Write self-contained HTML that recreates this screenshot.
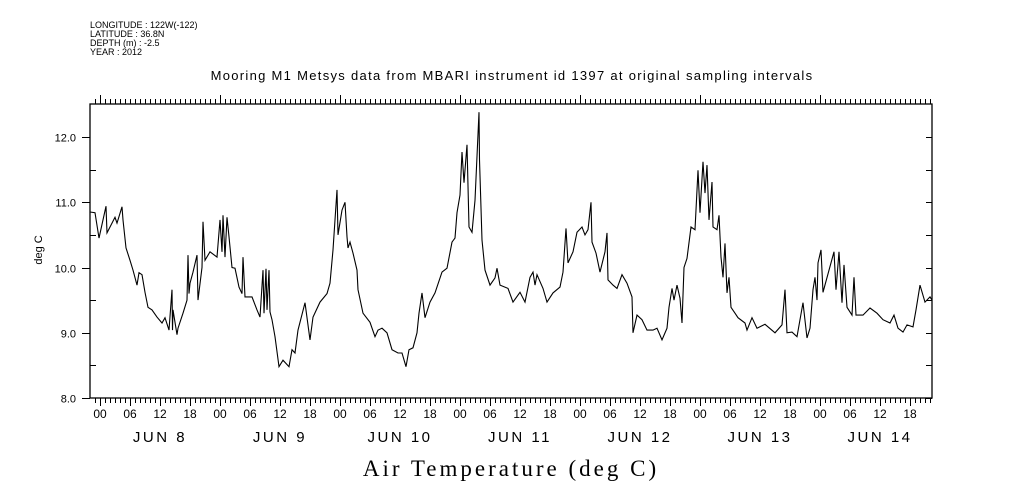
<!DOCTYPE html>
<html><head><meta charset="utf-8"><style>
body{margin:0;background:#fff;}
svg{display:block;font-family:"Liberation Sans",sans-serif;}
</style></head><body>
<svg id="chart" width="1009" height="504" viewBox="0 0 1009 504" xmlns="http://www.w3.org/2000/svg">
<g font-size="9" fill="#000">
<text x="90" y="28">LONGITUDE : 122W(-122)</text>
<text x="90" y="37">LATITUDE : 36.8N</text>
<text x="90" y="46">DEPTH (m) : -2.5</text>
<text x="90" y="55">YEAR : 2012</text>
</g>
<text x="512" y="80" text-anchor="middle" font-size="13" letter-spacing="1.3">Mooring M1 Metsys data from MBARI instrument id 1397 at original sampling intervals</text>
<text x="511" y="476" text-anchor="middle" font-size="23" letter-spacing="3" font-family="Liberation Serif,serif">Air Temperature (deg C)</text>
<text transform="translate(42,250) rotate(-90)" text-anchor="middle" font-size="11">deg C</text>
<rect x="90" y="104" width="842" height="294" fill="none" stroke="#000" stroke-width="1.3"/>
<g id="axes"></g>
<path id="line" fill="none" stroke="#000" stroke-width="1.1"/>
</svg>
<script>
// hours since Jun 8 00:00, 2012
const hours=[-2,-1,-0.2,0.6,1.2,1.4,2.4,3,3.4,4.4,4.6,5.2,6,6.6,7.4,7.8,8.4,9,9.6,10.4,11.4,12.4,13,13.8,14.4,14.5,14.6,15.4,15.6,16.6,17.4,17.6,17.8,18,18.6,19.4,19.6,20.4,20.6,21,22,23.4,24,24.4,24.6,25,25.4,25.8,26.4,27,27.8,28.4,28.6,29,30.4,31.4,32,32.6,32.8,33.2,33.4,33.8,34,34.4,35,35.8,36.6,37.8,38.4,39,39.6,41,42,42.6,44,45.4,46,46.6,47.4,47.6,48.4,49,49.4,49.6,50,50.6,51.4,51.6,52.6,54,55,55.6,56.4,57.4,58.4,59.6,60.4,61.2,61.8,62.6,63.4,63.8,64.4,65,66,67,68.4,69.4,70.4,71,71.4,72,72.4,72.8,73.4,73.8,74.4,75,75.8,75.9,76.4,77,78,79,79.4,80,81.6,82.6,84,85,86,86.6,87,87.4,88.6,89.4,90.6,92,92.6,93.2,93.6,94.6,95.4,96.4,97,97.6,98.2,98.4,99.2,100,101,101.4,101.6,102.6,103.4,104.4,105.4,106.4,106.6,107.4,108.4,109.4,110.6,111.4,112.4,113.4,113.8,114.4,114.8,115.4,116,116.4,116.8,117.4,118.2,119,119.6,120,120.6,121,121.4,121.8,122.4,122.6,123.4,123.8,124.2,124.6,125,125.4,125.8,126.2,127,127.6,129,129.4,130.4,131.4,133,135,136.4,137,137.4,138.4,139.4,140.6,141.4,142,142.6,143,143.4,143.6,144.2,144.6,146.8,147.2,147.8,148.4,148.8,149.4,150.4,150.8,151.2,152.6,154,155.4,156.6,158,158.8,159.6,160.6,161.4,162.6,163.2,164,165,166,166.4];
const temps=[10.85,10.84,10.45,10.73,10.94,10.53,10.68,10.77,10.68,10.93,10.73,10.3,10.11,9.96,9.73,9.92,9.89,9.62,9.39,9.35,9.24,9.15,9.23,9.04,9.66,9.04,9.35,8.97,9.07,9.3,9.5,10.19,9.6,9.76,9.93,10.19,9.5,10.0,10.7,10.11,10.24,10.16,10.73,10.24,10.8,10.16,10.77,10.47,10.0,9.99,9.7,9.6,10.16,9.55,9.55,9.35,9.24,9.96,9.3,9.98,9.35,9.96,9.32,9.2,8.94,8.48,8.58,8.48,8.74,8.69,9.04,9.46,8.89,9.24,9.47,9.6,9.76,10.27,11.19,10.5,10.88,11.0,10.47,10.3,10.39,10.22,9.96,9.66,9.3,9.16,8.94,9.04,9.07,9.0,8.74,8.69,8.69,8.48,8.74,8.77,9.0,9.3,9.61,9.23,9.47,9.61,9.93,9.99,10.39,10.45,10.84,11.11,11.77,11.3,11.88,10.62,10.54,11.03,12.38,11.65,10.42,9.96,9.73,9.84,9.99,9.73,9.68,9.47,9.62,9.47,9.85,9.93,9.73,9.89,9.68,9.47,9.61,9.7,9.93,10.6,10.07,10.24,10.54,10.62,10.5,10.58,11.0,10.39,10.22,9.93,10.24,10.53,9.81,9.73,9.68,9.89,9.76,9.55,9.0,9.27,9.2,9.04,9.04,9.07,8.89,9.07,9.39,9.68,9.5,9.73,9.53,9.15,10.0,10.14,10.62,10.58,11.49,10.84,11.62,11.14,11.57,10.73,11.31,10.62,10.58,10.8,10.16,9.85,10.37,9.61,9.85,9.39,9.3,9.23,9.15,9.04,9.23,9.07,9.13,9.0,9.12,9.66,9.0,9.01,8.94,9.46,8.92,9.07,9.66,9.85,9.5,10.07,10.27,9.62,10.24,9.66,10.24,9.46,10.04,9.39,9.27,9.85,9.27,9.27,9.38,9.3,9.2,9.15,9.27,9.07,9.01,9.12,9.09,9.35,9.73,9.47,9.55,9.5];
const yTickLabels=["8.0","9.0","10.0","11.0","12.0"];
const hourLabels=["00","06","12","18"];
const dayLabels=["JUN  8","JUN  9","JUN 10","JUN 11","JUN 12","JUN 13","JUN 14"];

const NS="http://www.w3.org/2000/svg";
const X0=90,X1=932,Y0=104,Y1=398,HMIN=-2,HMAX=166.4;
function xs(h){return X0+(h-HMIN)/(HMAX-HMIN)*(X1-X0);}
function ys(v){return 398-(v-8)*65.25;}
const axes=document.getElementById('axes');
function line(x1,y1,x2,y2){const l=document.createElementNS(NS,'line');l.setAttribute('x1',x1);l.setAttribute('y1',y1);l.setAttribute('x2',x2);l.setAttribute('y2',y2);l.setAttribute('stroke','#000');l.setAttribute('stroke-width','1');


axes.appendChild(l);}
function text(x,y,s,size,anchor,name,ls){const t=document.createElementNS(NS,'text');t.setAttribute('x',x);t.setAttribute('y',y);t.setAttribute('font-size',size);t.setAttribute('text-anchor',anchor);if(ls)t.setAttribute('letter-spacing',ls);t.textContent=s;


axes.appendChild(t);}
for(let h=-1;h<=166;h++){
  const x=xs(h)+0.5;
  const major=(h%24===0), six=(h%6===0);
  line(x,Y0,x,Y0-(major?9:5));
  line(x,Y1,x,Y1+(six?8:5));
  if(six){text(xs(h),418,hourLabels[((h%24)+24)%24/6],12,'middle','x-hour-label');}
}
dayLabels.forEach((d,i)=>{text(xs(i*24+12),442,d,15,'middle','x-date-label','2.5');});
for(let k=0;k<=8;k++){
  const v=8+k*0.5,y=Math.round(ys(v))+0.5;
  if(k%2===0){line(X0-8,y,X0,y);text(76,y+4,yTickLabels[k/2],11,'end','y-tick-label');}
  else line(X0,y,X0+6,y);
  line(X1-6,y,X1,y);
}
let d='';
hours.forEach((h,i)=>{d+=(i?'L':'M')+xs(h).toFixed(1)+' '+ys(temps[i]).toFixed(1);});
document.getElementById('line').setAttribute('d',d);
</script>
</body></html>
